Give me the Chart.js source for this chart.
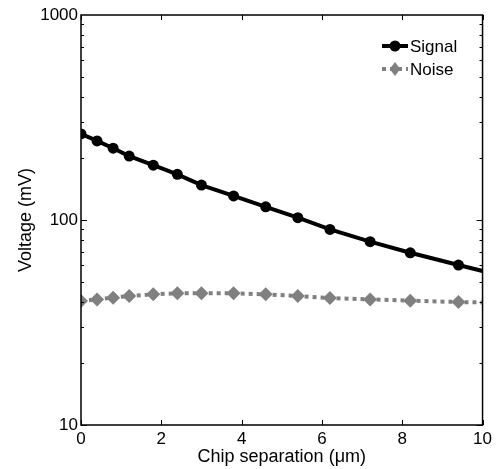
<!DOCTYPE html>
<html>
<head>
<meta charset="utf-8">
<script src="https://cdn.jsdelivr.net/npm/chart.js@4/dist/chart.umd.min.js"></script>
<style>
  html, body { margin: 0; padding: 0; background: #fff; }
  #wrap { width: 496px; height: 469px; }
</style>
</head>
<body>
<div id="wrap"><canvas id="chart" width="496" height="469"></canvas></div>
<script>
const separation = [0, 0.4, 0.8, 1.2, 1.8, 2.4, 3.0, 3.8, 4.6, 5.4, 6.2, 7.2, 8.2, 9.4, 10];
const signal = [263, 243, 224, 205, 185, 167, 148, 131, 116, 102.6, 90, 78.4, 69.2, 60.3, 56.4];
const noise = [40.3, 41, 41.8, 42.6, 43.4, 43.9, 43.9, 43.9, 43.4, 42.6, 41.6, 41, 40.4, 39.8, 39.6];
const xTicks = [0, 2, 4, 6, 8, 10];
const yTicks = [10, 100, 1000];

const FONT = 'Liberation Sans, Arial, Helvetica, sans-serif';
const GRAY = '#808080';

function toXY(ys) {
    return separation.map((x, i) => ({ x: x, y: ys[i] }));
}

// no marker on the last point (line runs to the edge)
const markerRadius = (r) => separation.map((x, i) => (i === separation.length - 1 ? 0 : r));

// box, inward ticks and legend drawn on top of the chart area
const framePlugin = {
    id: 'frame',
    afterDraw(chart) {
        const ctx = chart.ctx;
        const a = chart.chartArea;
        const xs = chart.scales.x;
        const ys = chart.scales.y;
        ctx.save();
        ctx.strokeStyle = '#000';
        ctx.lineWidth = 1.5;
        ctx.strokeRect(a.left, a.top, a.right - a.left, a.bottom - a.top);

        ctx.lineWidth = 1;
        ctx.beginPath();
        xTicks.forEach(v => {
            const px = Math.round(xs.getPixelForValue(v)) + 0.5;
            ctx.moveTo(px, a.bottom); ctx.lineTo(px, a.bottom - 5);
            ctx.moveTo(px, a.top); ctx.lineTo(px, a.top + 5);
        });
        for (let d = 10; d < 1000; d *= 10) {
            for (let m = 1; m < 10; m++) {
                const v = d * m;
                const len = m === 1 ? 6 : 3;
                const py = Math.round(ys.getPixelForValue(v)) + 0.5;
                ctx.moveTo(a.left, py); ctx.lineTo(a.left + len, py);
                ctx.moveTo(a.right, py); ctx.lineTo(a.right - len, py);
            }
        }
        ctx.stroke();

        // legend
        const items = [
            { label: 'Signal', ds: chart.data.datasets[0], y: 46 },
            { label: 'Noise', ds: chart.data.datasets[1], y: 69 }
        ];
        const x0 = 382, x1 = 408;
        items.forEach(it => {
            ctx.strokeStyle = it.ds.borderColor;
            ctx.lineWidth = it.ds.borderWidth;
            ctx.setLineDash(it.ds.borderDash || []);
            ctx.beginPath();
            ctx.moveTo(x0, it.y); ctx.lineTo(x1, it.y);
            ctx.stroke();
            ctx.setLineDash([]);
            ctx.fillStyle = it.ds.pointBackgroundColor;
            const cx = (x0 + x1) / 2;
            ctx.beginPath();
            if (it.ds.pointStyle === 'rectRot') {
                const r = 7;
                ctx.moveTo(cx, it.y - r); ctx.lineTo(cx + r * 0.75, it.y);
                ctx.lineTo(cx, it.y + r); ctx.lineTo(cx - r * 0.75, it.y);
                ctx.closePath();
            } else {
                ctx.arc(cx, it.y, 5.5, 0, Math.PI * 2);
            }
            ctx.fill();
            ctx.fillStyle = '#000';
            ctx.font = '17px ' + FONT;
            ctx.textBaseline = 'middle';
            ctx.textAlign = 'left';
            ctx.fillText(it.label, 410, it.y + 1);
        });
        ctx.restore();
    }
};

new Chart(document.getElementById('chart').getContext('2d'), {
    type: 'line',
    data: {
        datasets: [{
            label: 'Signal',
            data: toXY(signal),
            borderColor: '#000',
            borderWidth: 4,
            pointStyle: 'circle',
            pointRadius: markerRadius(5.5),
            pointBackgroundColor: '#000',
            pointBorderWidth: 0,
            tension: 0
        }, {
            label: 'Noise',
            data: toXY(noise),
            borderColor: GRAY,
            borderWidth: 4,
            borderDash: [4, 4],
            pointStyle: 'rectRot',
            pointRadius: markerRadius(7),
            pointBackgroundColor: GRAY,
            pointBorderWidth: 0,
            tension: 0
        }]
    },
    options: {
        responsive: false,
        animation: false,
        layout: { padding: { top: 15, right: 11, left: 0, bottom: 0 } },
        plugins: {
            legend: { display: false },
            tooltip: { enabled: false }
        },
        scales: {
            x: {
                type: 'linear',
                min: 0,
                max: 10,
                afterBuildTicks: (s) => { s.ticks = xTicks.map(v => ({ value: v })); },
                afterFit: (s) => { s.height = 44; },
                grid: { display: false, drawTicks: false },
                border: { display: false },
                ticks: {
                    color: '#000',
                    font: { family: FONT, size: 17 },
                    padding: 4,
                    maxRotation: 0
                },
                title: {
                    display: true,
                    text: 'Chip separation (μm)',
                    color: '#000',
                    font: { family: FONT, size: 18 },
                    padding: { top: 0, bottom: 1 }
                }
            },
            y: {
                type: 'logarithmic',
                min: 10,
                max: 1000,
                afterBuildTicks: (s) => { s.ticks = yTicks.map(v => ({ value: v })); },
                afterFit: (s) => { s.width = 81; },
                grid: { display: false, drawTicks: false },
                border: { display: false },
                ticks: {
                    color: '#000',
                    font: { family: FONT, size: 17 },
                    padding: 3,
                    callback: (v) => String(v)
                },
                title: {
                    display: true,
                    text: 'Voltage (mV)',
                    color: '#000',
                    font: { family: FONT, size: 18 },
                    padding: { top: 15, bottom: 0 }
                }
            }
        }
    },
    plugins: [framePlugin]
});
</script>
</body>
</html>
